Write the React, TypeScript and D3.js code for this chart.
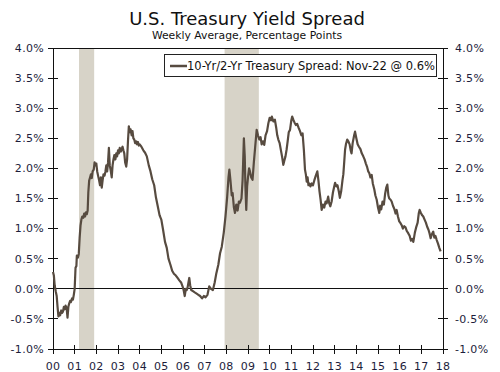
// Yield spread chart drawn with d3
import React, { useEffect, useRef } from 'react';
import * as d3 from 'd3';

// weekly spread (decimal year, percentage points)
const spreadDates = [
  2000.00, 2000.04, 2000.08, 2000.13, 2000.17, 2000.21, 2000.25, 2000.29, 2000.33, 2000.38,
  2000.42, 2000.46, 2000.50, 2000.54, 2000.58, 2000.63, 2000.67, 2000.71, 2000.75, 2000.79,
  2000.83, 2000.88, 2000.92, 2000.96, 2001.00, 2001.04, 2001.08, 2001.10, 2001.15, 2001.19,
  2001.23, 2001.27, 2001.31, 2001.35, 2001.40, 2001.44, 2001.48, 2001.52, 2001.56, 2001.60,
  2001.63, 2001.67, 2001.71, 2001.75, 2001.79, 2001.83, 2001.88, 2001.92, 2001.96, 2002.00,
  2002.04, 2002.08, 2002.13, 2002.17, 2002.21, 2002.25, 2002.29, 2002.33, 2002.38, 2002.42,
  2002.46, 2002.50, 2002.54, 2002.58, 2002.62, 2002.67, 2002.71, 2002.75, 2002.79, 2002.83,
  2002.88, 2002.92, 2002.96, 2003.00, 2003.04, 2003.08, 2003.13, 2003.17, 2003.21, 2003.25,
  2003.29, 2003.33, 2003.38, 2003.42, 2003.46, 2003.50, 2003.54, 2003.58, 2003.63, 2003.67,
  2003.71, 2003.75, 2003.79, 2003.83, 2003.88, 2003.92, 2003.96, 2004.00, 2004.08, 2004.17,
  2004.25, 2004.33, 2004.42, 2004.50, 2004.58, 2004.67, 2004.75, 2004.83, 2004.92, 2005.00,
  2005.08, 2005.17, 2005.25, 2005.33, 2005.42, 2005.50, 2005.58, 2005.67, 2005.75, 2005.83,
  2005.92, 2006.00, 2006.04, 2006.08, 2006.13, 2006.17, 2006.21, 2006.25, 2006.29, 2006.33,
  2006.38, 2006.46, 2006.54, 2006.63, 2006.71, 2006.79, 2006.88, 2006.96, 2007.04, 2007.13,
  2007.21, 2007.29, 2007.38, 2007.46, 2007.54, 2007.63, 2007.71, 2007.79, 2007.88, 2007.96,
  2008.04, 2008.10, 2008.14, 2008.19, 2008.25, 2008.29, 2008.35, 2008.40, 2008.46, 2008.52,
  2008.58, 2008.63, 2008.70, 2008.75, 2008.81, 2008.85, 2008.88, 2008.92, 2008.96, 2009.00,
  2009.05, 2009.09, 2009.15, 2009.21, 2009.27, 2009.33, 2009.40, 2009.46, 2009.52, 2009.58,
  2009.63, 2009.69, 2009.75, 2009.81, 2009.88, 2009.94, 2010.00, 2010.06, 2010.10, 2010.17,
  2010.24, 2010.30, 2010.35, 2010.40, 2010.46, 2010.52, 2010.58, 2010.63, 2010.67, 2010.73,
  2010.78, 2010.83, 2010.88, 2010.94, 2011.00, 2011.04, 2011.10, 2011.15, 2011.21, 2011.27,
  2011.33, 2011.40, 2011.46, 2011.52, 2011.58, 2011.63, 2011.67, 2011.71, 2011.75, 2011.79,
  2011.83, 2011.88, 2011.94, 2012.00, 2012.06, 2012.13, 2012.20, 2012.25, 2012.30, 2012.35,
  2012.40, 2012.46, 2012.52, 2012.58, 2012.63, 2012.70, 2012.75, 2012.80, 2012.86, 2012.92,
  2012.98, 2013.02, 2013.08, 2013.13, 2013.19, 2013.24, 2013.30, 2013.36, 2013.40, 2013.44,
  2013.48, 2013.52, 2013.58, 2013.63, 2013.69, 2013.74, 2013.78, 2013.83, 2013.90, 2013.94,
  2014.00, 2014.06, 2014.12, 2014.19, 2014.25, 2014.32, 2014.38, 2014.44, 2014.50, 2014.55,
  2014.60, 2014.65, 2014.71, 2014.76, 2014.83, 2014.88, 2014.94, 2015.00, 2015.06, 2015.10,
  2015.15, 2015.21, 2015.27, 2015.33, 2015.38, 2015.43, 2015.48, 2015.52, 2015.58, 2015.63,
  2015.69, 2015.75, 2015.81, 2015.86, 2015.92, 2015.98, 2016.04, 2016.10, 2016.15, 2016.21,
  2016.27, 2016.33, 2016.40, 2016.46, 2016.52, 2016.58, 2016.63, 2016.70, 2016.76, 2016.83,
  2016.88, 2016.92, 2016.98, 2017.04, 2017.09, 2017.15, 2017.21, 2017.27, 2017.33, 2017.38,
  2017.43, 2017.48, 2017.55, 2017.60, 2017.65, 2017.71, 2017.77, 2017.83, 2017.89
];
const spreadValues = [
  0.28, 0.22, 0.05, -0.05, -0.12, -0.30, -0.46, -0.40, -0.44, -0.36,
  -0.40, -0.38, -0.30, -0.34, -0.28, -0.32, -0.48, -0.30, -0.24, -0.20,
  -0.22, -0.16, -0.18, -0.10, 0.00, 0.35, 0.38, 0.55, 0.52, 0.58,
  0.85, 1.05, 1.15, 1.20, 1.18, 1.25, 1.20, 1.27, 1.24, 1.30,
  1.60, 1.80, 1.85, 1.90, 1.84, 1.95, 1.98, 2.10, 2.05, 2.08,
  1.95, 1.88, 1.80, 1.72, 1.85, 1.68, 1.80, 1.90, 1.88, 1.95,
  2.05, 1.95, 2.10, 2.34, 2.05, 1.95, 1.85, 2.05, 2.15, 2.22,
  2.15, 2.25, 2.20, 2.30, 2.25, 2.34, 2.28, 2.32, 2.36, 2.30,
  2.25, 2.10, 2.03, 2.15, 2.45, 2.70, 2.60, 2.65, 2.55, 2.62,
  2.50, 2.48, 2.42, 2.45, 2.40, 2.44, 2.38, 2.40, 2.36, 2.30,
  2.26, 2.20, 2.05, 1.95, 1.82, 1.72, 1.52, 1.38, 1.22, 1.15,
  0.98, 0.78, 0.68, 0.50, 0.40, 0.30, 0.25, 0.22, 0.18, 0.14,
  0.10, 0.02, -0.04, -0.12, 0.00, -0.02, 0.02, 0.10, 0.18, 0.06,
  -0.02, -0.04, -0.06, -0.08, -0.10, -0.12, -0.16, -0.12, -0.14, -0.10,
  0.04, 0.00, -0.02, 0.10, 0.26, 0.40, 0.59, 0.70, 0.93, 1.20,
  1.53, 1.85, 1.98, 1.80, 1.55, 1.59, 1.35, 1.26, 1.40, 1.30,
  1.45, 1.43, 1.50, 1.80, 2.50, 2.20, 1.70, 1.31, 1.70, 1.85,
  2.00, 1.95, 1.85, 1.81, 2.10, 2.35, 2.64, 2.55, 2.48, 2.52,
  2.40, 2.45, 2.39, 2.55, 2.62, 2.75, 2.84, 2.80, 2.86, 2.78,
  2.81, 2.68, 2.55, 2.48, 2.42, 2.30, 2.18, 2.06, 2.12, 2.20,
  2.31, 2.45, 2.60, 2.64, 2.80, 2.86, 2.80, 2.76, 2.72, 2.74,
  2.68, 2.62, 2.55, 2.58, 2.30, 1.98, 1.90, 1.78, 1.85, 1.72,
  1.75, 1.70, 1.75, 1.72, 1.80, 1.88, 1.95, 1.80, 1.62, 1.48,
  1.31, 1.40, 1.35, 1.45, 1.42, 1.53, 1.42, 1.37, 1.45, 1.60,
  1.70, 1.76, 1.70, 1.72, 1.62, 1.51, 1.62, 1.80, 1.90, 2.10,
  2.31, 2.40, 2.48, 2.45, 2.40, 2.30, 2.25, 2.42, 2.55, 2.61,
  2.50, 2.40, 2.36, 2.32, 2.25, 2.20, 2.15, 2.08, 2.02, 1.95,
  1.92, 1.85, 1.89, 1.75, 1.65, 1.55, 1.48, 1.35, 1.26, 1.38,
  1.32, 1.45, 1.40, 1.58, 1.68, 1.73, 1.55, 1.50, 1.48, 1.45,
  1.38, 1.33, 1.25, 1.31, 1.20, 1.12, 1.09, 1.05, 1.00, 1.04,
  1.02, 0.96, 0.92, 0.88, 0.80, 0.83, 0.78, 0.93, 1.02, 1.10,
  1.25, 1.31, 1.26, 1.22, 1.20, 1.15, 1.10, 1.03, 0.98, 0.92,
  0.84, 0.90, 0.95, 0.85, 0.88, 0.81, 0.75, 0.68, 0.62
];

// recessions (shaded)
const recessionStarts = [2001.2, 2007.92];
const recessionEnds = [2001.9, 2009.5];

const yearTicks = d3.range(2000, 2019);
const yTicks = [-1, -0.5, 0, 0.5, 1, 1.5, 2, 2.5, 3, 3.5, 4];

const legendLabel = '10-Yr/2-Yr Treasury Spread: Nov-22 @ 0.6%';

const font = '"DejaVu Sans", Verdana, sans-serif';
const labelColor = '#1d1d3b';
const lineColor = '#574b40';

const App = () => {
  const ref = useRef(null);

  useEffect(() => {
    const svg = d3.select(ref.current);
    svg.selectAll('*').remove();

    const left = 53, right = 443, top = 48, bottom = 349;

    const x = d3.scaleLinear().domain([2000, 2018]).range([left, right]);
    const y = d3.scaleLinear().domain([-1, 4]).range([bottom, top]);

    // title
    svg.append('text')
      .attr('x', 247).attr('y', 25)
      .attr('text-anchor', 'middle')
      .style('font-family', font).style('font-size', '18px')
      .attr('fill', '#111')
      .text('U.S. Treasury Yield Spread');
    svg.append('text')
      .attr('x', 247).attr('y', 38.5)
      .attr('text-anchor', 'middle')
      .style('font-family', font).style('font-size', '10.8px')
      .attr('fill', '#111')
      .text('Weekly Average, Percentage Points');

    // recession bars
    svg.append('g').selectAll('rect')
      .data(recessionStarts)
      .enter().append('rect')
        .attr('x', d => x(d))
        .attr('width', (d, i) => x(recessionEnds[i]) - x(d))
        .attr('y', top)
        .attr('height', bottom - top)
        .attr('fill', '#d7d3c8');

    // frame + zero line
    const frame = svg.append('g').attr('stroke', '#111').attr('stroke-width', 1).attr('shape-rendering', 'crispEdges');
    frame.append('line').attr('x1', left).attr('x2', right).attr('y1', top).attr('y2', top);
    frame.append('line').attr('x1', left).attr('x2', right).attr('y1', bottom).attr('y2', bottom);
    frame.append('line').attr('x1', left).attr('x2', left).attr('y1', top).attr('y2', bottom);
    frame.append('line').attr('x1', right).attr('x2', right).attr('y1', top).attr('y2', bottom);
    frame.append('line').attr('x1', left).attr('x2', right).attr('y1', y(0)).attr('y2', y(0));

    // y ticks, both sides
    yTicks.forEach(t => {
      [left, right].forEach(px => {
        frame.append('line').attr('x1', px - 5).attr('x2', px + 5).attr('y1', y(t)).attr('y2', y(t));
      });
    });
    // x ticks
    yearTicks.forEach(t => {
      frame.append('line').attr('x1', x(t)).attr('x2', x(t)).attr('y1', bottom - 4).attr('y2', bottom + 5);
    });

    const fmt = d => d.toFixed(1) + '%';
    const labels = svg.append('g')
      .style('font-family', font).style('font-size', '11px')
      .style('letter-spacing', '0.3px')
      .attr('fill', labelColor);
    yTicks.forEach(t => {
      labels.append('text').attr('x', 44).attr('y', y(t)).attr('dy', '0.35em')
        .attr('text-anchor', 'end').text(fmt(t));
      labels.append('text').attr('x', 455).attr('y', y(t)).attr('dy', '0.35em')
        .attr('text-anchor', 'start').text(fmt(t));
    });
    yearTicks.forEach(t => {
      labels.append('text').attr('x', x(t)).attr('y', 370)
        .attr('text-anchor', 'middle').text(String(t).slice(2));
    });

    // spread line
    const line = d3.line()
      .x((d, i) => x(spreadDates[i]))
      .y(d => y(d));
    svg.append('path')
      .datum(spreadValues)
      .attr('d', line)
      .attr('fill', 'none')
      .attr('stroke', lineColor)
      .attr('stroke-width', 2.2)
      .attr('stroke-linejoin', 'round');

    // legend
    const lg = svg.append('g');
    lg.append('rect')
      .attr('x', 164.5).attr('y', 54.5).attr('width', 272).attr('height', 22)
      .attr('fill', '#fff').attr('stroke', '#222').attr('stroke-width', 1);
    lg.append('line')
      .attr('x1', 170).attr('x2', 187).attr('y1', 66).attr('y2', 66)
      .attr('stroke', lineColor).attr('stroke-width', 2.5);
    lg.append('text')
      .attr('x', 187).attr('y', 66).attr('dy', '0.35em')
      .style('font-family', font).style('font-size', '11.5px')
      .attr('fill', '#111')
      .text(legendLabel);
  }, []);

  return (
    <div>
      <svg ref={ref} width={500} height={372}
        style={{ position: 'absolute', left: 0, top: 0, background: '#fff' }}></svg>
    </div>
  );
};

export default App;
